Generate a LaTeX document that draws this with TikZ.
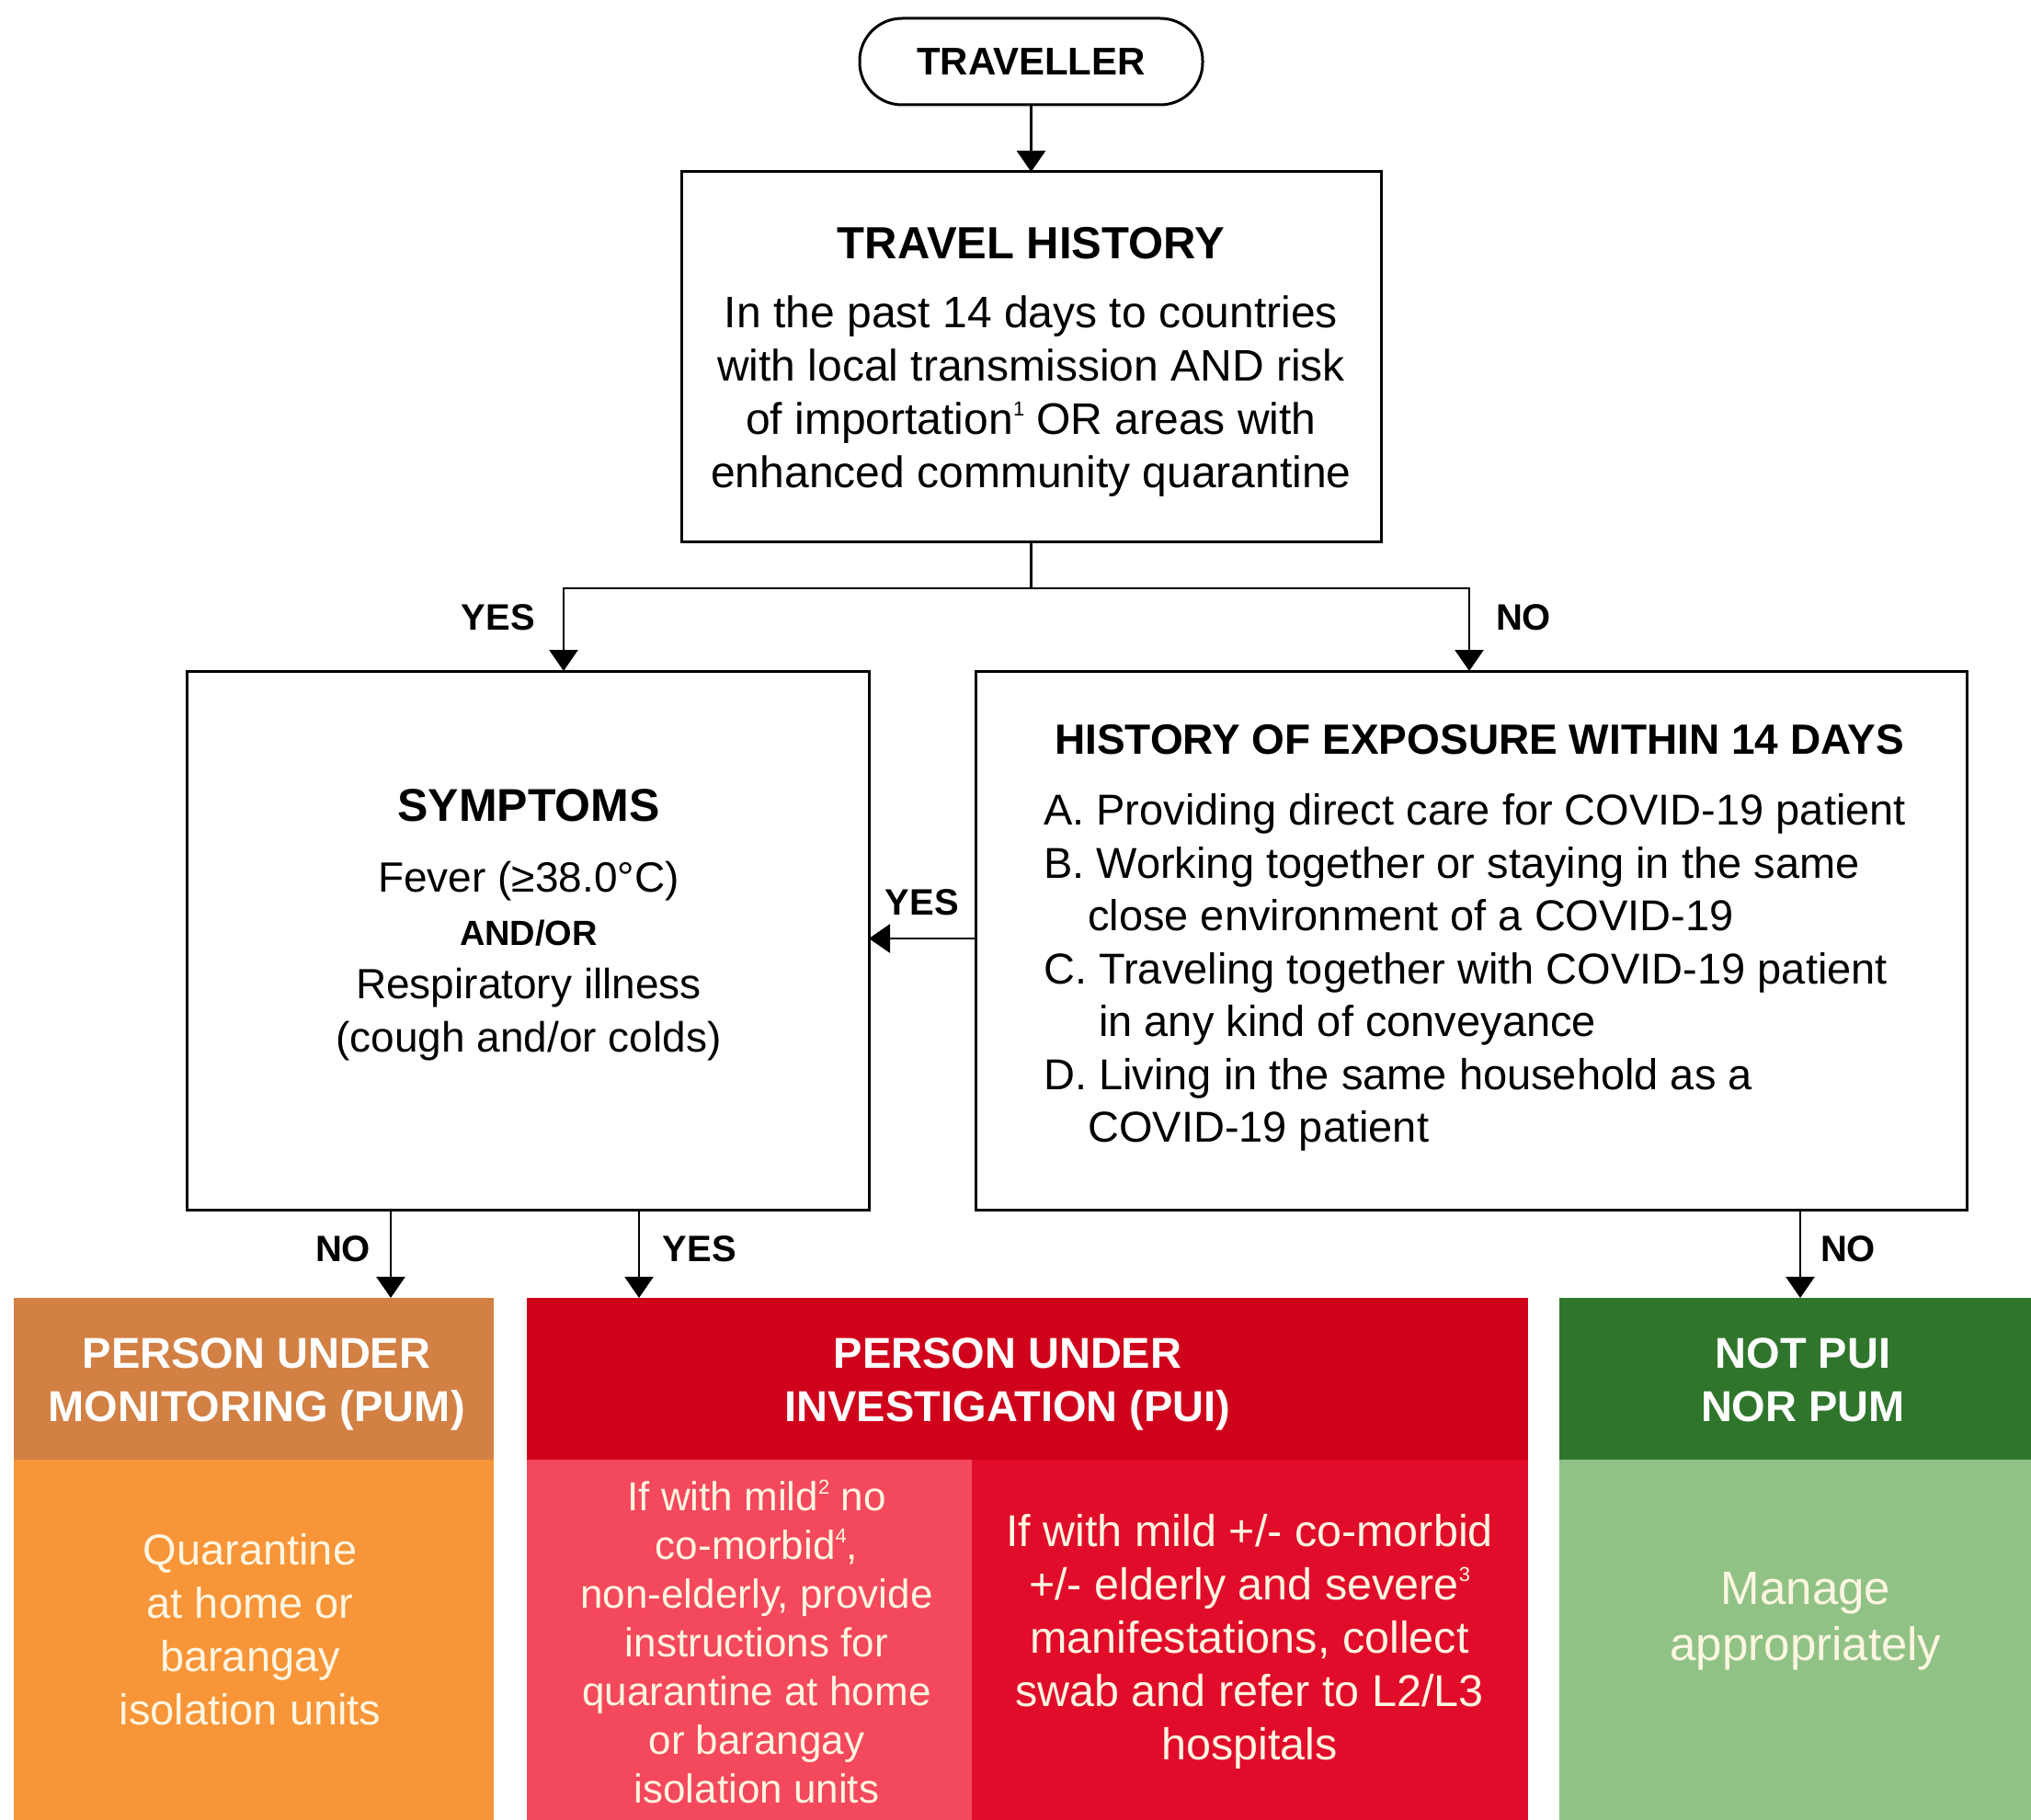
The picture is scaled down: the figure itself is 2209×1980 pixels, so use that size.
\documentclass[tikz,border=0pt]{standalone}
\usepackage{fontspec}
\setmainfont{Liberation Sans}
\usetikzlibrary{arrows.meta}
\definecolor{pumHead}{RGB}{210,128,68}
\definecolor{pumBody}{RGB}{247,149,56}
\definecolor{puiHead}{RGB}{208,2,27}
\definecolor{puiLeft}{RGB}{244,73,92}
\definecolor{puiRight}{RGB}{225,12,42}
\definecolor{notHead}{RGB}{47,118,44}
\definecolor{notBody}{RGB}{145,194,133}
\definecolor{cream}{RGB}{255,246,226}
\newcommand{\supr}[1]{\raisebox{0.42em}{\fontsize{22}{22}\selectfont #1}}
\begin{document}
\begin{tikzpicture}[x=1pt,y=-1pt,
  box/.style={draw=black, line width=3pt, inner sep=0pt, outer sep=0pt, anchor=north west},
  panel/.style={inner sep=0pt, outer sep=0pt, anchor=north west, draw=none},
  arr/.style={line width=2.8pt, -{Triangle[width=31pt,length=23pt]}},
  conn/.style={line width=2.8pt},
  lbl/.style={font=\fontsize{40}{48}\selectfont\bfseries, inner sep=0pt},
  txt/.style={inner sep=0pt, align=center},
  hd/.style={inner sep=0pt, align=center, text=white, font=\fontsize{47}{58}\selectfont\bfseries}
]
\useasboundingbox (0,0) rectangle (2209,1980);
\fill[white] (0,0) rectangle (2209,1980);

% Traveller
\node[draw=black, line width=3pt, rounded corners=46pt, minimum width=373pt, minimum height=94pt,
      inner sep=0pt, outer sep=0pt, font=\fontsize{42}{48}\selectfont\bfseries] (trav) at (1121.5,67) {TRAVELLER};

% Travel history
\node[box, minimum width=761pt, minimum height=402pt] (th) at (741,187) {};
\node[txt, font=\fontsize{49}{56}\selectfont\bfseries] (thT) at (1121.5,265) {TRAVEL HISTORY};
\node[txt, font=\fontsize{48}{58}\selectfont] (thB) at (1121.5,431)
  {In the past 14 days to countries\\with local transmission AND risk\\of importation\supr{1} OR areas with\\enhanced community quarantine};

% Symptoms
\node[box, minimum width=742pt, minimum height=586pt] (sym) at (203,730) {};
\node[txt, font=\fontsize{50}{58}\selectfont\bfseries] (symT) at (575,876) {SYMPTOMS};
\node[txt, font=\fontsize{46}{58}\selectfont] (symB) at (575,1046)
  {Fever (≥38.0°C)\\{\fontsize{38}{58}\selectfont\bfseries AND/OR}\\Respiratory illness\\(cough and/or colds)};

% Exposure
\node[box, minimum width=1078pt, minimum height=586pt] (expo) at (1061,730) {};
\node[txt, font=\fontsize{46}{52}\selectfont\bfseries] (expoT) at (1609,805) {HISTORY OF EXPOSURE WITHIN 14 DAYS};
\node[inner sep=0pt, align=left, anchor=west, font=\fontsize{47}{57.5}\selectfont] (expoB) at (1135,1058)
  {A. Providing direct care for COVID-19 patient\\
   B. Working together or staying in the same\\
   \hspace*{48pt}close environment of a COVID-19\\
   C. Traveling together with COVID-19 patient\\
   \hspace*{60pt}in any kind of conveyance\\
   D. Living in the same household as a\\
   \hspace*{48pt}COVID-19 patient};

% Bottom panels
\node[panel, fill=pumHead, minimum width=522pt, minimum height=176pt] (pumH) at (15,1412) {};
\node[panel, fill=pumBody, minimum width=522pt, minimum height=392pt] (pumB) at (15,1588) {};
\node[panel, fill=puiHead, minimum width=1089pt, minimum height=176pt] (puiH) at (573,1412) {};
\node[panel, fill=puiLeft, minimum width=484pt, minimum height=392pt] (puiL) at (573,1588) {};
\node[panel, fill=puiRight, minimum width=605pt, minimum height=392pt] (puiR) at (1057,1588) {};
\node[panel, fill=notHead, minimum width=513pt, minimum height=176pt] (notH) at (1696,1412) {};
\node[panel, fill=notBody, minimum width=513pt, minimum height=392pt] (notB) at (1696,1588) {};

\node[hd] (pumHT) at (279,1506) {PERSON UNDER\\MONITORING (PUM)};
\node[hd] (puiHT) at (1096,1506) {PERSON UNDER\\INVESTIGATION (PUI)};
\node[hd] (notHT) at (1961,1501) {NOT PUI\\NOR PUM};

\node[txt, text=cream, font=\fontsize{47}{58}\selectfont] (pumBT) at (272,1773)
  {Quarantine\\at home or\\barangay\\isolation units};
\node[txt, text=cream, font=\fontsize{44}{53}\selectfont] (puiLT) at (823,1786)
  {If with mild\supr{2} no\\co-morbid\supr{4},\\non-elderly, provide\\instructions for\\quarantine at home\\or barangay\\isolation units};
\node[txt, text=cream, font=\fontsize{48.5}{58}\selectfont] (puiRT) at (1359,1786)
  {If with mild +/- co-morbid\\+/- elderly and severe\supr{3}\\manifestations, collect\\swab and refer to L2/L3\\hospitals};
\node[txt, text=cream, font=\fontsize{51}{61}\selectfont] (notBT) at (1964,1764)
  {Manage\\appropriately};

% Connectors
\draw[arr] (trav.south) -- (trav.south |- th.north);
\coordinate (split) at (trav.south |- 0,640);
\coordinate (yesIn) at (613,730);
\coordinate (noIn) at (1598,730);
\draw[conn] (trav.south |- th.south) -- (split);
\draw[arr] (split) -| (yesIn);
\draw[arr] (split) -| (noIn);
\draw[arr] (expo.west |- 0,1021) -- (sym.east |- 0,1021);
\draw[arr] (sym.south -| 425,0) -- (pumH.north -| 425,0);
\draw[arr] (sym.south -| 695,0) -- (puiH.north -| 695,0);
\draw[arr] (expo.south -| 1958,0) -- (notH.north -| 1958,0);

% Labels
\node[lbl] (l1) at (542,672) {YES};
\node[lbl] (l2) at (1657,672) {NO};
\node[lbl] (l3) at (1003,982) {YES};
\node[lbl] (l4) at (373,1359) {NO};
\node[lbl] (l5) at (761,1359) {YES};
\node[lbl] (l6) at (2010,1359) {NO};
\end{tikzpicture}
\end{document}
